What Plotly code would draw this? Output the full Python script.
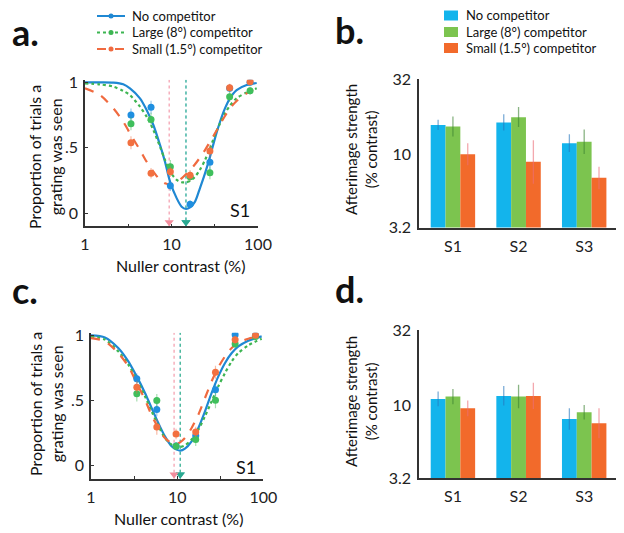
import plotly.graph_objects as go

# ---------------- data ----------------
series_names = ["No competitor", "Large (8°) competitor", "Small (1.5°) competitor"]

# panel a: data points (nuller contrast %, proportion seen)
pts_x = [3.4, 5.8, 9.7, 16.4, 27.8, 47, 81]
a_blue = [0.75, 0.81, 0.21, 0.07, 0.39, 0.955, 1.0]
a_green = [0.684, 0.717, 0.356, 0.279, 0.31, 0.89, 0.936]
a_orange = [0.539, 0.305, 0.318, 0.29, 0.476, 0.959, 1.005]
a_blue_err = [0.05, 0.05, 0.04, 0.03, 0.06, 0.03, 0.02]
a_green_err = [0.05, 0.05, 0.05, 0.04, 0.05, 0.04, 0.03]
a_orange_err = [0.05, 0.04, 0.04, 0.04, 0.05, 0.03, 0.02]

# panel a: fitted curves
a_curve_x = [1, 1.49, 2.13, 2.77, 3.31, 4.32, 5.16, 6.17, 7.36, 8.41, 9.61, 11.5, 13.1,
             14.7, 16.4, 18.7, 21.3, 24.4, 27.9, 31.8, 36.4, 41.5, 47.4, 56.6, 74, 96.6]
a_curve_blue = [1.0, 1.0, 0.998, 0.985, 0.954, 0.878, 0.789, 0.674, 0.522, 0.394, 0.242, 0.114, 0.050,
                0.033, 0.045, 0.089, 0.191, 0.305, 0.433, 0.572, 0.699, 0.801, 0.878, 0.941, 0.979, 0.995]
a_curve_green = [0.992, 0.984, 0.967, 0.934, 0.903, 0.814, 0.738, 0.636, 0.509, 0.407, 0.318, 0.255, 0.237,
                 0.237, 0.247, 0.280, 0.331, 0.407, 0.496, 0.598, 0.687, 0.763, 0.822, 0.878, 0.923, 0.954]
a_curve_orange = [0.954, 0.903, 0.801, 0.699, 0.610, 0.483, 0.394, 0.318, 0.255, 0.229, 0.221, 0.237, 0.267,
                  0.298, 0.331, 0.374, 0.425, 0.483, 0.547, 0.610, 0.679, 0.743, 0.801, 0.857, 0.916, 0.954]
a_nulls = [14.7, 14.7, 9.4]   # curve minima (blue, green, orange)

# panel c
c_blue = [0.667, 0.43, 0.15, 0.23, 0.583, 1.005, 1.0]
c_green = [0.552, 0.499, 0.149, 0.2, 0.501, 0.933, 0.99]
c_orange = [0.601, 0.297, 0.243, 0.258, 0.716, 0.966, 1.0]
c_blue_err = [0.04, 0.05, 0.03, 0.04, 0.05, 0.02, 0.02]
c_green_err = [0.06, 0.05, 0.03, 0.05, 0.06, 0.03, 0.02]
c_orange_err = [0.05, 0.06, 0.04, 0.04, 0.05, 0.03, 0.02]

c_curve_x = [1.0, 1.45, 2.07, 2.71, 3.39, 4.23, 5.05, 6.04, 7.21, 8.62, 9.86, 10.8, 12.3,
             14.7, 17.6, 21.0, 25.1, 30.0, 35.9, 42.9, 51.2, 66.8, 95.5]
c_curve_blue = [1.0, 0.984, 0.903, 0.800, 0.685, 0.558, 0.442, 0.327, 0.225, 0.149, 0.123, 0.115, 0.131,
                0.187, 0.289, 0.417, 0.558, 0.685, 0.788, 0.864, 0.915, 0.959, 0.992]
c_curve_green = [0.992, 0.967, 0.877, 0.775, 0.660, 0.532, 0.417, 0.307, 0.212, 0.161, 0.145, 0.143, 0.156,
                 0.200, 0.276, 0.379, 0.494, 0.609, 0.711, 0.800, 0.864, 0.923, 0.974]
c_curve_orange = [0.979, 0.954, 0.864, 0.762, 0.634, 0.506, 0.386, 0.289, 0.212, 0.174, 0.169, 0.179, 0.212,
                  0.289, 0.391, 0.519, 0.647, 0.754, 0.839, 0.903, 0.941, 0.974, 0.992]
c_nulls = [10.8, 10.9, 9.2]

# panels b & d: afterimage strength (% contrast) with error bounds
subjects = ["S1", "S2", "S3"]
b_blue = [15.7, 16.3, 11.8]
b_green = [15.3, 17.7, 12.1]
b_orange = [9.95, 8.87, 6.92]
b_blue_hi = [17.0, 18.5, 13.6]
b_blue_lo = [14.5, 14.4, 10.3]
b_green_hi = [17.9, 20.7, 14.6]
b_green_lo = [13.1, 15.2, 10.0]
b_orange_hi = [11.8, 12.4, 8.2]
b_orange_lo = [8.4, 6.3, 5.8]

d_blue = [10.97, 11.5, 8.04]
d_green = [11.4, 11.4, 8.92]
d_orange = [9.49, 11.5, 7.51]
d_blue_hi = [12.3, 13.4, 9.5]
d_blue_lo = [9.8, 9.9, 6.8]
d_green_hi = [12.8, 13.7, 10.0]
d_green_lo = [10.1, 9.5, 7.96]
d_orange_hi = [10.7, 14.1, 9.5]
d_orange_lo = [8.4, 9.4, 5.95]

# ---------------- style ----------------
FONT = "Lato, 'Open Sans', sans-serif"
LINE_COL = ["#1F88D3", "#3DB552", "#F06A3F"]
PT_COL = ["#1F8FE0", "#3FBF5C", "#F27040"]
ERR_COL = ["rgba(31,136,211,0.45)", "rgba(61,181,82,0.45)", "rgba(240,106,63,0.45)"]
DASH = ["solid", "dot", "dash"]
VLINE_COL = ["rgba(60,170,200,0.8)", "rgba(60,180,140,0.8)", "rgba(240,130,150,0.8)"]
TRI_COL = ["#2AA8A0", "#2AA890", "#F28C9C"]
BAR_COL = ["#13B4EC", "#7CC44F", "#F26A2B"]
BAR_ERR = ["rgba(40,120,190,0.6)", "rgba(60,130,50,0.6)", "rgba(235,110,120,0.6)"]

# the page body has an 8px margin; the figure fills the rest of the 624x533 window
OFF = 8
W, H = 624 - OFF, 533 - OFF

def dx(px):
    return (px - OFF) / W

def dy(py):
    return (H - (py - OFF)) / H

fig = go.Figure()

def add_psych(xa, ya, curve_x, curves, pts, errs, nulls):
    for i in range(3):
        fig.add_trace(go.Scatter(x=[nulls[i], nulls[i]], y=[-0.1, 1.02], mode="lines",
                                 line=dict(color=VLINE_COL[i], width=1.2, dash="dot"),
                                 xaxis=xa, yaxis=ya, showlegend=False, hoverinfo="skip"))
    for i in range(3):
        fig.add_trace(go.Scatter(x=curve_x, y=curves[i], mode="lines", name=series_names[i],
                                 line=dict(color=LINE_COL[i], width=2.2, dash=DASH[i], shape="spline", smoothing=0.8),
                                 xaxis=xa, yaxis=ya, showlegend=False))
    for i in range(3):
        fig.add_trace(go.Scatter(x=pts_x, y=pts[i], mode="markers", name=series_names[i],
                                 marker=dict(color=PT_COL[i], size=7),
                                 error_y=dict(type="data", array=errs[i], color=ERR_COL[i], thickness=1.2, width=0),
                                 xaxis=xa, yaxis=ya, showlegend=False))
    for i in range(3):
        fig.add_trace(go.Scatter(x=[nulls[i]], y=[-0.068], mode="markers",
                                 marker=dict(symbol="triangle-down", color=TRI_COL[i], size=8),
                                 xaxis=xa, yaxis=ya, showlegend=False, cliponaxis=False))

add_psych("x", "y", a_curve_x, [a_curve_blue, a_curve_green, a_curve_orange],
          [a_blue, a_green, a_orange], [a_blue_err, a_green_err, a_orange_err], a_nulls)
add_psych("x3", "y3", c_curve_x, [c_curve_blue, c_curve_green, c_curve_orange],
          [c_blue, c_green, c_orange], [c_blue_err, c_green_err, c_orange_err], c_nulls)

def add_bars(xa, ya, vals, his, los):
    for i in range(3):
        fig.add_trace(go.Bar(x=subjects, y=vals[i], name=series_names[i],
                             marker=dict(color=BAR_COL[i], line=dict(width=0)),
                             error_y=dict(type="data", symmetric=False,
                                          array=[h - v for h, v in zip(his[i], vals[i])],
                                          arrayminus=[v - l for v, l in zip(vals[i], los[i])],
                                          color=BAR_ERR[i], thickness=1.3, width=0),
                             xaxis=xa, yaxis=ya, showlegend=False))

add_bars("x2", "y2", [b_blue, b_green, b_orange], [b_blue_hi, b_green_hi, b_orange_hi],
         [b_blue_lo, b_green_lo, b_orange_lo])
add_bars("x4", "y4", [d_blue, d_green, d_orange], [d_blue_hi, d_green_hi, d_orange_hi],
         [d_blue_lo, d_green_lo, d_orange_lo])

axis_common = dict(showline=True, linecolor="#333", linewidth=1.6, showgrid=False, zeroline=False,
                   tickfont=dict(family=FONT, size=16, color="#222"), mirror=False)

psych_x = dict(type="log", range=[0, 2], tickvals=[1, 3.162, 10, 31.62, 100],
               ticktext=["1", "", "10", "", "100"], ticks="inside", ticklen=3, tickcolor="#333",
               ticklabelstandoff=3, **axis_common)
psych_y = dict(range=[-0.1, 1.02], tickvals=[0, 0.5, 1], ticktext=["0", ".5", "1"],
               ticks="inside", ticklen=3, tickcolor="#333", ticklabelstandoff=2, **axis_common)
bar_x = dict(type="category", range=[-0.517, 2.5], ticks="", ticklabelstandoff=3, **axis_common)
bar_y = dict(type="log", range=[0.50515, 1.50515], tickvals=[3.2, 10, 32], ticktext=["3.2", "10", "32"],
             ticks="", ticklabelstandoff=3, **axis_common)

fig.update_layout(
    width=W, height=H, margin=dict(l=0, r=0, t=0, b=0, autoexpand=False),
    paper_bgcolor="white", plot_bgcolor="white",
    font=dict(family=FONT, color="#222"),
    barmode="group", bargap=0.323, bargroupgap=0,
    showlegend=False,
    xaxis=dict(domain=[dx(85), dx(258)], anchor="y", **psych_x),
    yaxis=dict(domain=[dy(226.4), dy(79.7)], anchor="x", **psych_y),
    xaxis3=dict(domain=[dx(91), dx(263.4)], anchor="y3", **psych_x),
    yaxis3=dict(domain=[dy(478.7), dy(332.7)], anchor="x3", **psych_y),
    xaxis2=dict(domain=[dx(419), dx(617)], anchor="y2", **bar_x),
    yaxis2=dict(domain=[dy(227.5), dy(79)], anchor="x2", **bar_y),
    xaxis4=dict(domain=[dx(419), dx(617)], anchor="y4", **bar_x),
    yaxis4=dict(domain=[dy(478.3), dy(330)], anchor="x4", **bar_y),
)

ann = []
shapes = []
def label(text, x, y, size, angle=0, bold=False, xanchor="center"):
    ann.append(dict(text=("<b>%s</b>" % text) if bold else text, x=dx(x), y=dy(y),
                    xref="paper", yref="paper", showarrow=False, textangle=angle,
                    xanchor=xanchor, yanchor="middle",
                    font=dict(family=FONT, size=size, color="#111")))

# legend for the psychometric panels (line + dot)
leg_rows = [16, 32.5, 49]
for i, ry in enumerate(leg_rows):
    shapes.append(dict(type="line", xref="paper", yref="paper", x0=dx(97), x1=dx(125), y0=dy(ry), y1=dy(ry),
                       line=dict(color=LINE_COL[i], width=2, dash=DASH[i])))
    shapes.append(dict(type="circle", xref="paper", yref="paper", x0=dx(108.5), x1=dx(113.5),
                       y0=dy(ry + 2.5), y1=dy(ry - 2.5), fillcolor=LINE_COL[i], line=dict(width=0)))
    label(series_names[i], 130, ry, 13, xanchor="left")
# legend for the bar panels (colour squares)
bleg_rows = [15.5, 32, 48]
for i, ry in enumerate(bleg_rows):
    shapes.append(dict(type="rect", xref="paper", yref="paper", x0=dx(444), x1=dx(458),
                       y0=dy(ry + 5), y1=dy(ry - 5), fillcolor=BAR_COL[i], line=dict(width=0)))
    label(series_names[i], 464, ry, 13, xanchor="left")

label("a.", 10, 32, 36, bold=True, xanchor="left")
label("b.", 333, 30, 36, bold=True, xanchor="left")
label("c.", 10, 290, 36, bold=True, xanchor="left")
label("d.", 333, 289, 36, bold=True, xanchor="left")
label("Nuller contrast (%)", 180, 265, 16)
label("Nuller contrast (%)", 178, 518, 16)
label("Proportion of trials a<br>grating was seen", 45, 157, 16, angle=-90)
label("Proportion of trials a<br>grating was seen", 46, 404, 16, angle=-90)
label("Afterimage strength<br>(% contrast)", 361, 150, 15, angle=-90)
label("Afterimage strength<br>(% contrast)", 361, 402, 15, angle=-90)
label("S1", 240, 210, 18)
label("S1", 246, 467, 18)
fig.update_layout(annotations=ann, shapes=shapes)

fig.write_html("out.html")
